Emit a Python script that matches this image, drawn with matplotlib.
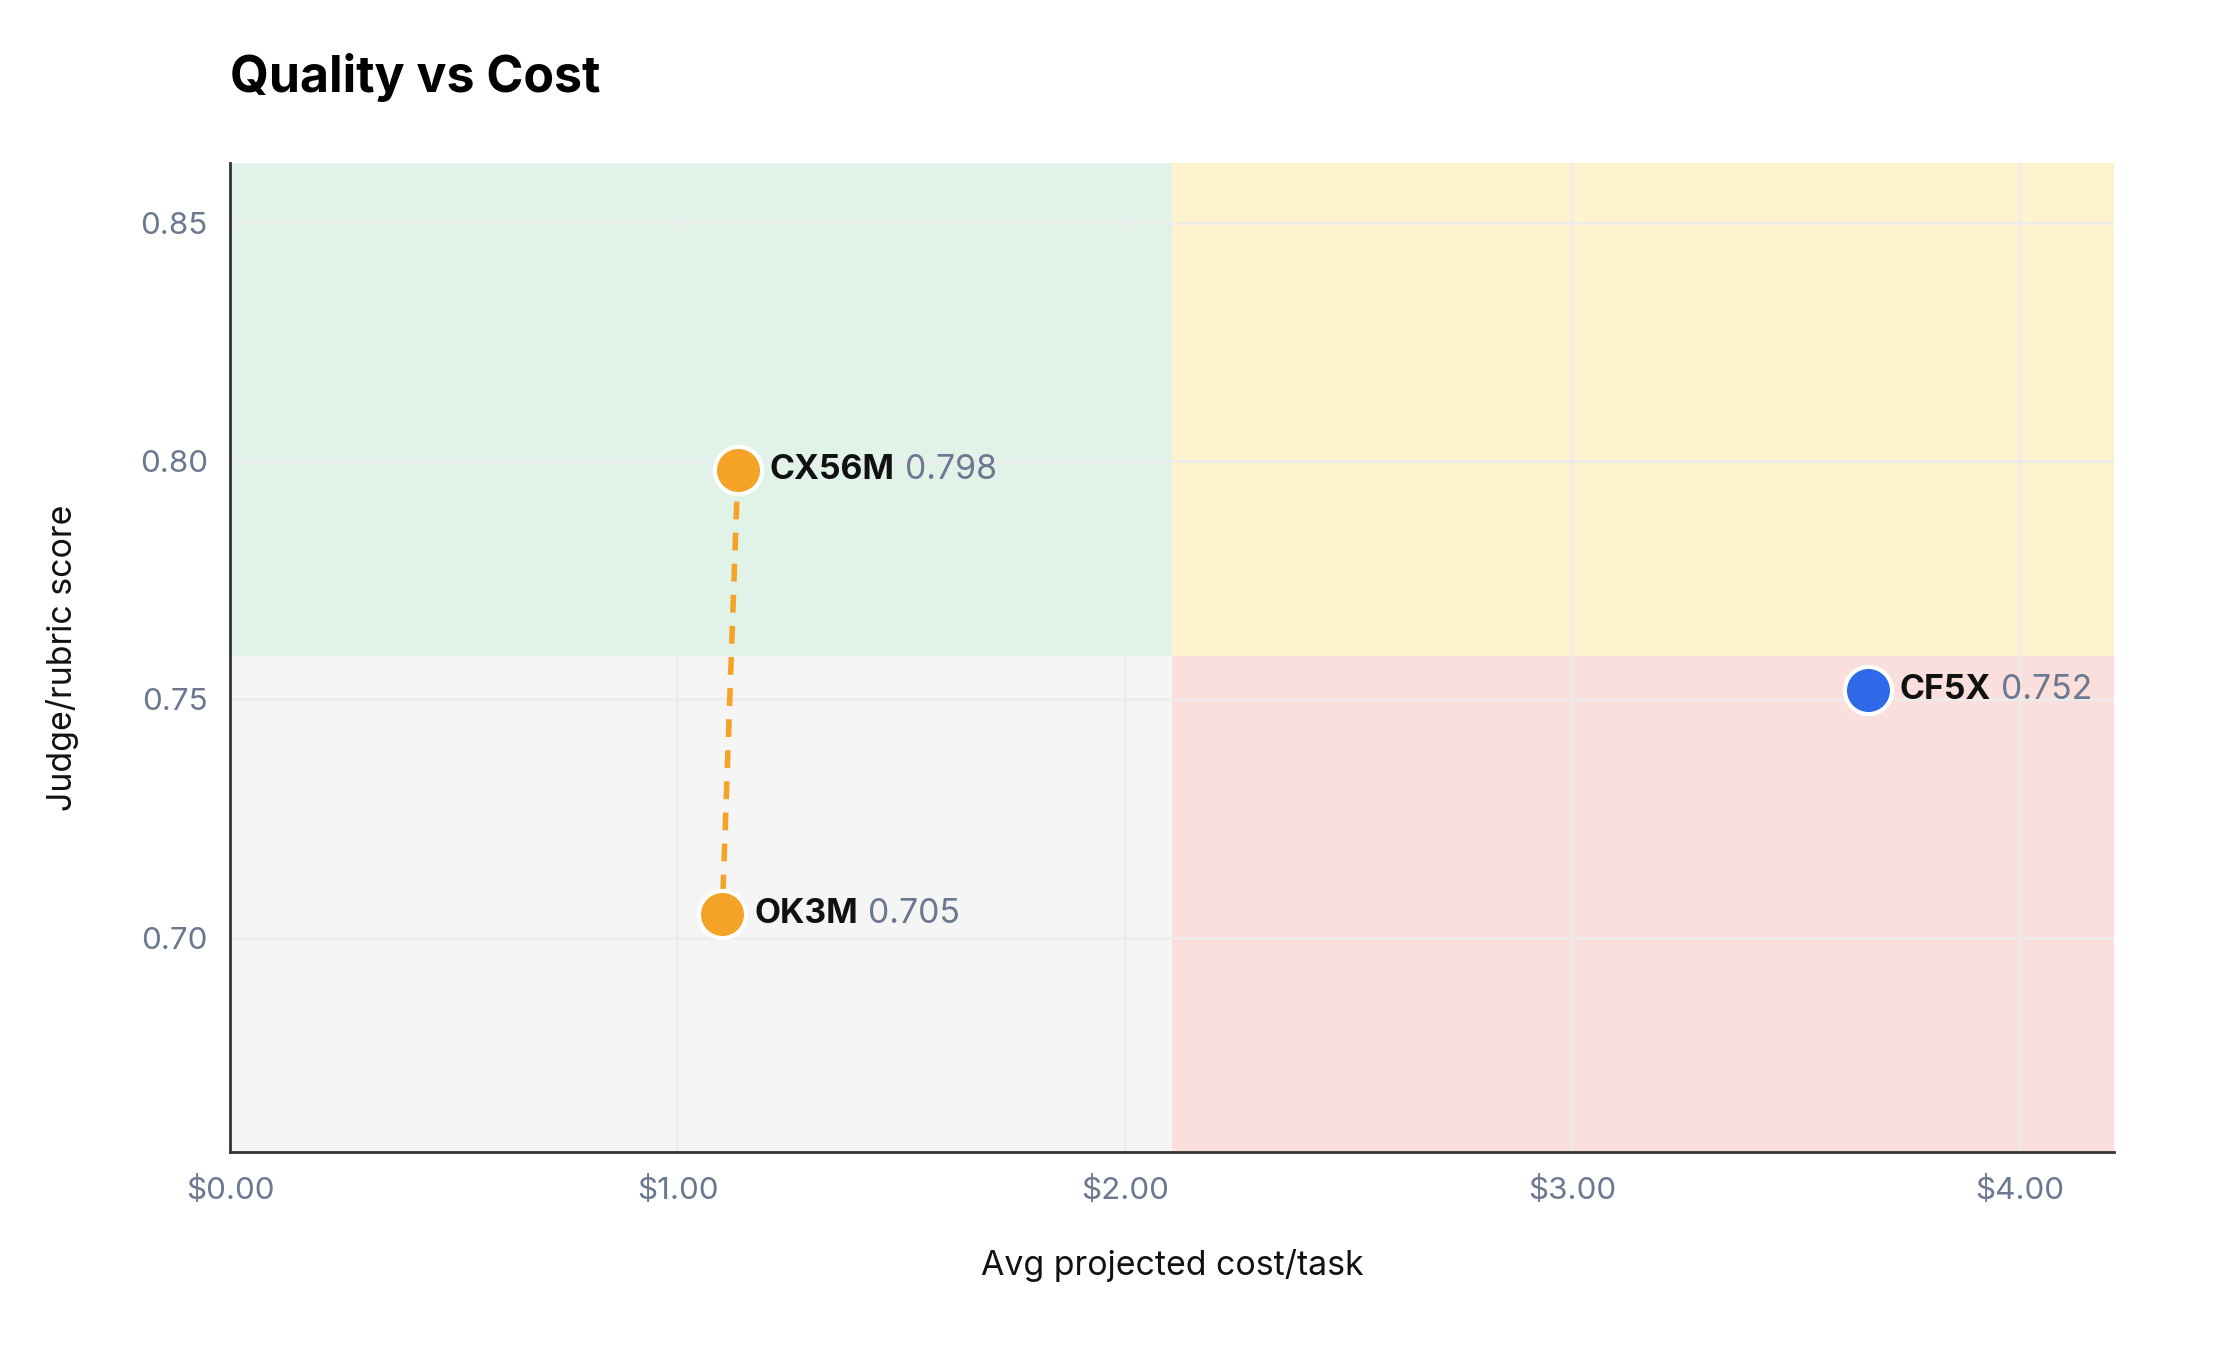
import matplotlib.pyplot as plt
from matplotlib.patches import Rectangle
from matplotlib.ticker import FuncFormatter

plt.rcParams['font.family'] = ['Inter', 'DejaVu Sans']

# data
models = ["CX56M", "OK3M", "CF5X"]
cost = [1.135, 1.10, 3.66]
score = [0.798, 0.705, 0.752]
colors = ["#F5A327", "#F5A327", "#2F6BE8"]
linked = ["CX56M", "OK3M"]   # joined by the dashed line

x_min, x_max = 0.0, 4.21
y_min, y_max = 0.655, 0.8625
cost_split = 2.105
score_split = 0.759
x_ticks = [0, 1, 2, 3, 4]
y_ticks = [0.70, 0.75, 0.80, 0.85]

tick_col = "#6B7890"

fig = plt.figure(figsize=(11.14, 6.79), dpi=200)
ax = fig.add_axes([0.1032, 0.1515, 0.8456, 0.7285])
ax.set_xlim(x_min, x_max)
ax.set_ylim(y_min, y_max)

# quadrant backgrounds
quads = [
    (x_min, score_split, cost_split - x_min, y_max - score_split, "#E1F3E8"),
    (cost_split, score_split, x_max - cost_split, y_max - score_split, "#FFF2CF"),
    (x_min, y_min, cost_split - x_min, score_split - y_min, "#F5F5F5"),
    (cost_split, y_min, x_max - cost_split, score_split - y_min, "#FADFDD"),
]
for qx, qy, qw, qh, qc in quads:
    ax.add_patch(Rectangle((qx, qy), qw, qh, facecolor=qc, edgecolor="none", zorder=0.5))

ax.grid(True, color="#ECECEC", linewidth=0.9)

# dashed link
i0, i1 = models.index(linked[0]), models.index(linked[1])
ax.plot([cost[i0], cost[i1]], [score[i0], score[i1]], color="#F5A327",
        linestyle=(0, (3.2, 2.4)), linewidth=2.0, zorder=2)

for name, cx, sy, c in zip(models, cost, score, colors):
    ax.plot(cx, sy, "o", markersize=17, markerfacecolor=c, markeredgecolor="white",
            markeredgewidth=1.5, zorder=3)
    t = ax.annotate(name, (cx, sy), xytext=(11.5, 0), textcoords="offset points",
                    ha="left", va="center", fontsize=12.2, fontweight="bold", color="#111111")
    ax.annotate(f"{sy:.3f}", xy=(1, 0), xycoords=t, xytext=(3.5, 0),
                textcoords="offset points", ha="left", va="bottom",
                fontsize=12.2, color=tick_col)

ax.set_xticks(x_ticks)
ax.set_yticks(y_ticks)
ax.xaxis.set_major_formatter(FuncFormatter(lambda v, p: f"${v:.2f}"))
ax.yaxis.set_major_formatter(FuncFormatter(lambda v, p: f"{v:.2f}"))
ax.tick_params(axis="both", length=0, labelsize=11.3, labelcolor=tick_col)
ax.tick_params(axis="x", pad=8.5)
ax.tick_params(axis="y", pad=8)

for s in ["top", "right"]:
    ax.spines[s].set_visible(False)
for s in ["left", "bottom"]:
    ax.spines[s].set_color("#333333")
    ax.spines[s].set_linewidth(1.0)

ax.set_xlabel("Avg projected cost/task", fontsize=12.2, color="#111111", labelpad=16)
ax.set_ylabel("Judge/rubric score", fontsize=12.2, color="#111111", labelpad=22)

fig.text(0.1032, 0.943, "Quality vs Cost", fontsize=18, fontweight="bold",
         ha="left", va="center", color="#000000")

fig.savefig("out.png", dpi=200, facecolor="white")
